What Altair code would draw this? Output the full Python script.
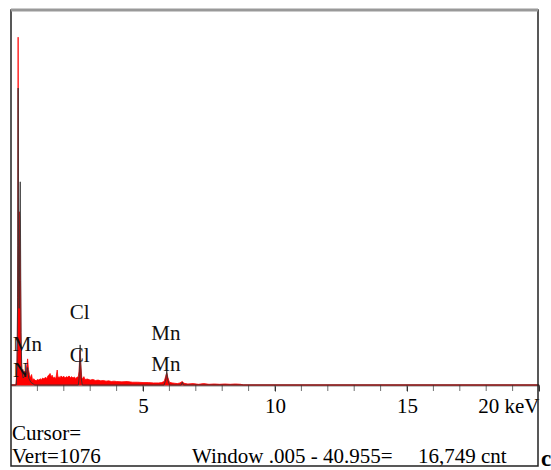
import altair as alt
import pandas as pd

# ---- spectrum data (keV, counts) ----
red_kev = [0.00, 0.18, 0.20, 0.22, 0.24, 0.26, 0.27, 0.28, 0.30, 0.32, 0.34, 0.36, 0.38, 0.40,
           0.42, 0.45, 0.48, 0.52, 0.56, 0.60, 0.63, 0.66, 0.70, 0.74, 0.78, 0.82, 0.86,
           0.90, 0.95, 1.00, 1.05, 1.10, 1.15, 1.20, 1.25, 1.30, 1.35, 1.40, 1.45, 1.48,
           1.52, 1.56, 1.60, 1.65, 1.70, 1.75, 1.78, 1.82, 1.86, 1.90, 1.95, 2.00, 2.05,
           2.10, 2.15, 2.20, 2.25, 2.30, 2.35, 2.40, 2.45, 2.50, 2.55, 2.58, 2.61, 2.64,
           2.68, 2.72, 2.76, 2.80, 2.90, 3.00, 3.10, 3.20, 3.30, 3.40, 3.50, 3.60, 3.70,
           3.80, 3.90, 4.00, 4.20, 4.40, 4.60, 4.80, 5.00, 5.20, 5.40, 5.60, 5.70, 5.80,
           5.86, 5.90, 5.94, 6.00, 6.10, 6.20, 6.30, 6.40, 6.49, 6.55, 6.70, 6.90, 7.10,
           7.30, 7.50, 7.70, 7.90, 8.10, 8.30, 8.50, 8.70, 8.80, 20.0]
red_cnt = [0, 0, 15, 40, 120, 400, 998, 420, 380, 497, 470, 300, 120, 60,
           30, 45, 25, 40, 30, 55, 75, 45, 30, 20, 30, 12, 18,
           14, 12, 16, 14, 18, 15, 20, 17, 22, 19, 26, 30, 33,
           24, 28, 20, 22, 19, 43, 20, 24, 21, 26, 22, 25, 20,
           24, 22, 26, 21, 24, 20, 23, 19, 22, 24, 40, 100, 60,
           22, 18, 24, 16, 17, 14, 16, 13, 14, 12, 13, 11, 12,
           10, 11, 10, 9, 10, 8, 8, 7, 7, 6, 6, 7, 10,
           25, 35, 22, 8, 6, 5, 4, 6, 10, 5, 3, 4, 2,
           4, 2, 3, 2, 3, 2, 3, 2, 0, 0]

dark_kev = [0.00, 0.20, 0.23, 0.25, 0.27, 0.29, 0.31, 0.35, 0.38, 0.41, 0.46, 0.52, 0.60,
            0.63, 0.67, 0.75, 0.90, 2.55, 2.58, 2.62, 2.66, 2.70, 5.80, 5.86, 5.90, 5.94,
            6.00, 6.45, 6.49, 6.53, 20.0]
dark_cnt = [0, 0, 60, 250, 852, 300, 220, 583, 150, 40, 20, 25, 30,
            50, 20, 8, 0, 0, 20, 115, 20, 0, 0, 15, 40, 15,
            0, 0, 8, 0, 0]

elem_text = ["N", "Mn", "Cl", "Cl", "Mn", "Mn"]
elem_kev = [0.36, 0.62, 2.60, 2.60, 5.87, 5.87]
elem_cnt = [23, 98, 66, 189, 40, 129]

minor_ticks = list(range(1, 21))
tick_label_vals = [5, 10, 15, 20]
tick_label_text = ["5", "10", "15", "20 keV"]

footer_cursor = "Cursor="
footer_vert = "Vert=1076"
footer_window = "Window .005 - 40.955="
footer_cnt = "16,749 cnt"
panel_letter = "c"

W, H = 528, 375
FONT = "Liberation Serif"
FS = 21

label_expr = "''"
for v, t in zip(reversed(tick_label_vals), reversed(tick_label_text)):
    label_expr = f"datum.value == {v} ? '{t}' : ({label_expr})"

xs = alt.Scale(domain=[0, 20], nice=False, zero=False)
ys = alt.Scale(domain=[0, 1076], nice=False)

x_axis = alt.Axis(values=tick_label_vals, labelExpr=label_expr, title=None, grid=False,
                  domainColor="#8c8c8c", domainWidth=2, tickColor="#333333",
                  tickSize=6, tickWidth=1, labelFont=FONT, labelFontSize=FS,
                  labelColor="black", labelPadding=4, labelFlush=True,
                  labelOverlap=False)

red = alt.Chart(pd.DataFrame({"kev": red_kev, "cnt": red_cnt})).mark_area(
    color="#ff0000", stroke="#ff0000", strokeWidth=0.8, interpolate="linear"
).encode(
    x=alt.X("kev:Q", scale=xs, axis=x_axis),
    y=alt.Y("cnt:Q", scale=ys, axis=None),
)

dark = alt.Chart(pd.DataFrame({"kev": dark_kev, "cnt": dark_cnt})).mark_line(
    color="#333333", strokeWidth=1, opacity=0.85
).encode(
    x=alt.X("kev:Q", scale=xs),
    y=alt.Y("cnt:Q", scale=ys),
)

ticks = alt.Chart(pd.DataFrame({"kev": minor_ticks})).mark_tick(
    orient="vertical", size=6, thickness=1, color="#333333"
).encode(
    x=alt.X("kev:Q", scale=xs),
    y=alt.value(H + 3),
)

elems = alt.Chart(pd.DataFrame({"t": elem_text, "kev": elem_kev, "cnt": elem_cnt})).mark_text(
    font=FONT, fontSize=FS, color="#111111", baseline="alphabetic", align="center"
).encode(
    x=alt.X("kev:Q", scale=xs),
    y=alt.Y("cnt:Q", scale=ys),
    text="t:N",
)

def txt(s, x, y, size=FS, align="left", weight="normal"):
    return alt.Chart(pd.DataFrame({"t": [s]})).mark_text(
        font=FONT, fontSize=size, color="black", align=align, baseline="alphabetic",
        fontWeight=weight
    ).encode(x=alt.value(x), y=alt.value(y), text="t:N")

frame = alt.Chart(pd.DataFrame({"t": [0]})).mark_rect(
    fillOpacity=0, stroke="#222222", strokeWidth=1.5
).encode(x=alt.value(0), x2=alt.value(527), y=alt.value(0), y2=alt.value(456))

top_line = alt.Chart(pd.DataFrame({"t": [0]})).mark_rule(
    color="#999999", strokeWidth=3
).encode(x=alt.value(0), x2=alt.value(527), y=alt.value(0))

chart = alt.layer(
    red, dark, ticks, elems,
    txt(footer_cursor, 1, 430),
    txt(footer_vert, 1, 453),
    txt(footer_window, 181, 453),
    txt(footer_cnt, 407, 453),
    txt(panel_letter, 530, 456, size=23, weight="bold"),
    frame, top_line,
).properties(
    width=W, height=H,
    autosize=alt.AutoSizeParams(type="none"),
    padding={"left": 11, "top": 10, "right": 12, "bottom": 85},
    background="white",
).configure_view(stroke=None)

chart.save("out.html", embed_options={"renderer": "svg", "actions": False})
